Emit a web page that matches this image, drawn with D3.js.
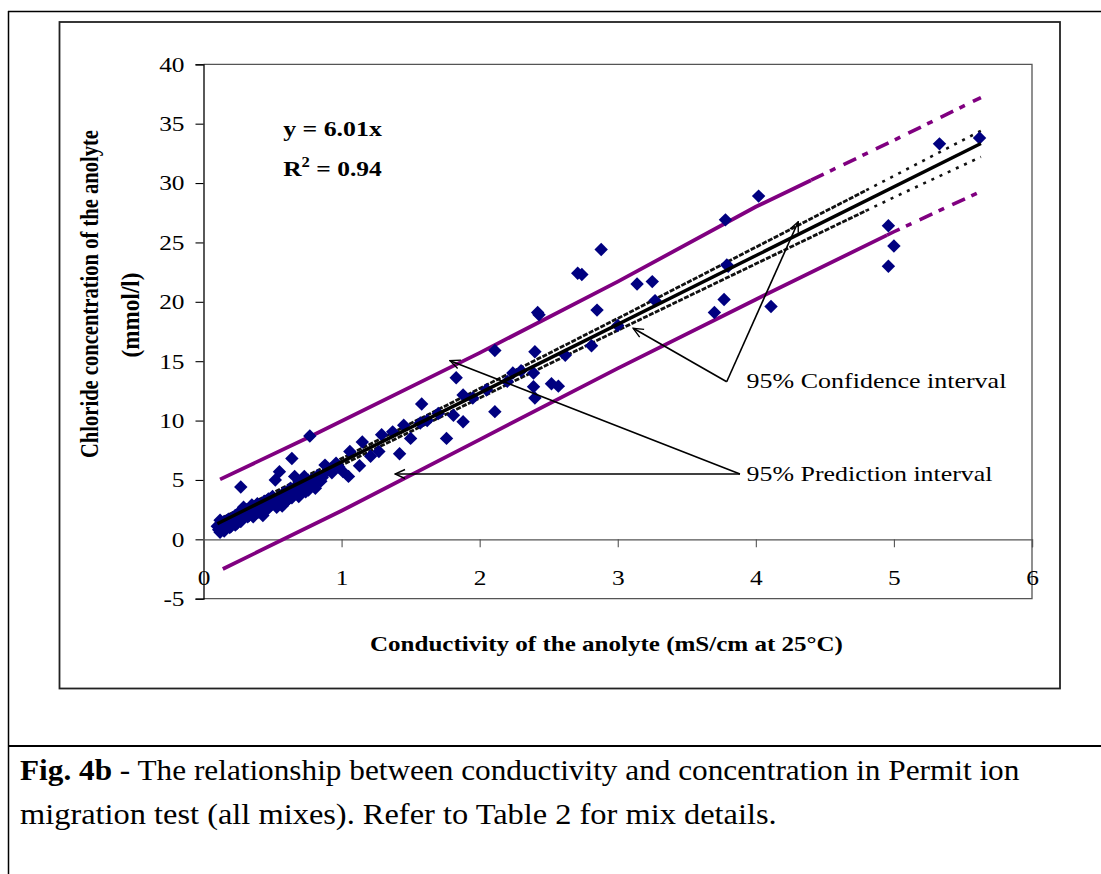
<!DOCTYPE html>
<html><head><meta charset="utf-8">
<script src="https://cdn.jsdelivr.net/npm/d3@7/dist/d3.min.js"></script>
<style>
html,body{margin:0;padding:0;background:#fff;}
svg{display:block;}
text{font-family:"Liberation Serif","Times New Roman",serif;}
</style></head>
<body>
<svg id="chart" width="1101" height="874"></svg>
<script>
// ---------- data ----------
const xTicks = [0,1,2,3,4,5,6];
const yTicks = [-5,0,5,10,15,20,25,30,35,40];

const pointsX = [5.62,5.33,4.02,3.78,2.88,2.71,2.74,3.14,3.25,3.27,2.85,3.79,3.77,3.70,4.11,4.96,5.00,4.96,
  2.42,2.43,2.11,2.40,2.81,1.83,2.24,2.39,1.88,2.39,2.52,2.57,2.40,1.58,2.11,1.81,1.88,1.76,1.42,1.29,1.37,1.50,
  0.77,0.64,0.27,0.55,0.52,0.66,0.73,0.76,0.88,0.96,1.06,1.15,1.05,1.13,1.27,1.21,1.57,
  1.45,1.62,1.70,1.95,2.05,2.20,2.30,2.62,3.00,3.80,
  0.10,0.11,0.12,0.13,0.14,0.15,0.16,0.17,0.18,0.19,0.20,0.21,0.22,0.23,0.24,0.25,0.26,0.28,0.29,0.30,0.31,0.32,
  0.34,0.35,0.36,0.37,0.39,0.40,0.42,0.44,0.46,0.47,0.49,0.50,0.52,0.55,0.57,0.58,0.61,0.63,0.66,0.68,0.70,0.72,
  0.75,0.78,0.80,0.83,0.86,0.90,0.93,0.98,1.01,
  0.12,0.15,0.19,0.23,0.27,0.33,0.38,0.43,0.48,0.53,0.59,0.64,0.69,0.74,0.81,0.85];
const pointsY = [33.8,33.3,28.9,26.9,24.4,22.4,22.3,21.5,21.7,20.1,19.3,23.1,20.2,19.1,19.6,26.4,24.7,23.0,
  19.1,18.9,15.9,15.8,16.3,13.6,14.0,14.0,12.15,12.85,13.1,12.9,11.9,11.4,10.75,10.45,9.9,8.5,7.2,8.8,9.05,8.5,
  8.7,6.8,4.4,5.7,5.0,5.3,5.3,4.15,6.25,6.4,7.4,8.2,5.3,6.2,7.4,7.0,9.8,
  9.6,10.0,10.6,11.9,12.6,13.3,14.2,15.5,18.0,23.0,
  1.1,0.8,0.6,1.3,1.0,1.5,0.9,1.2,1.7,1.4,1.1,1.8,1.5,2.0,1.3,1.9,2.3,1.7,2.7,2.1,2.5,1.9,
  2.4,2.9,1.9,2.6,3.0,2.3,2.8,3.2,2.5,3.4,2.9,3.6,3.1,3.6,2.8,3.9,3.3,4.3,3.8,4.6,4.2,4.9,
  4.4,5.0,4.7,5.4,5.2,5.8,5.6,6.1,5.7,
  1.6,0.7,1.0,1.2,1.5,2.0,2.2,2.0,3.0,2.7,3.1,3.5,3.6,4.0,4.3,4.9];

const fitX = [0.10, 5.63];
const fitY = [1.31, 33.33];

const ciX      = [0.10, 1.0, 2.0, 3.0, 4.0, 5.0, 5.63];
const ciUpperY = [1.6, 6.8, 12.7, 18.6, 24.6, 30.6, 34.4];
const ciLowerY = [1.0, 6.25, 11.9, 17.6, 23.2, 28.8, 32.2];

const piUpperX = [0.12, 0.77, 2.0, 3.0, 4.0, 5.0, 5.63];
const piUpperY = [5.05, 8.64, 15.7, 21.7, 28.0, 33.6, 37.2];
const piLowerX = [0.14, 1.0, 2.0, 3.0, 4.0, 5.0, 5.63];
const piLowerY = [-2.5, 2.4, 8.4, 14.4, 20.2, 25.9, 29.3];

const xTitle = "Conductivity of the anolyte (mS/cm at 25\u00B0C)";
const yTitle1 = "Chloride concentration of the anolyte";
const yTitle2 = "(mmol/l)";
const ciLabel = "95% Confidence interval";
const piLabel = "95% Prediction interval";
const captionBold = "Fig. 4b";
const captionRest1 = " - The relationship between conductivity and concentration in Permit ion";
const captionLine2 = "migration test (all mixes). Refer to Table 2 for mix details.";

// ---------- layout ----------
const svg = d3.select("#chart");
const L = 203.5, R = 1032, T = 64.3, B = 598.7;
const x = d3.scaleLinear().domain([0,6]).range([L,R]);
const y = d3.scaleLinear().domain([-5,40]).range([B,T]);
const FS = 21.5;

// stretch a text element horizontally to a target ink width, around anchor ax
function fitWidth(sel, target, ax){
  const w = sel.node().getBBox().width;
  const s = target / w;
  sel.attr("transform", `translate(${ax},0) scale(${s},1) translate(${-ax},0)`);
}

// page frame
svg.append("line").attr("x1",8.5).attr("x2",8.5).attr("y1",11).attr("y2",874).attr("stroke","#000").attr("stroke-width",1.5);
svg.append("line").attr("x1",8).attr("x2",1101).attr("y1",11.5).attr("y2",11.5).attr("stroke","#000").attr("stroke-width",1.5);
svg.append("line").attr("x1",8).attr("x2",1101).attr("y1",746).attr("y2",746).attr("stroke","#000").attr("stroke-width",2);

// chart area border
svg.append("rect").attr("x",59.5).attr("y",22).attr("width",1000.5).attr("height",666.5)
  .attr("fill","none").attr("stroke","#222").attr("stroke-width",1.8);

// plot area border (top, right, bottom)
svg.append("path").attr("d",`M${L},${T}H${R}V${B}H${L}`).attr("fill","none").attr("stroke","#555").attr("stroke-width",1.3);

// y axis
const yAxis = d3.axisLeft(y).tickValues(yTicks).tickSize(8).tickPadding(11).tickFormat(d => String(d));
const gy = svg.append("g").attr("transform",`translate(${L},0)`).call(yAxis);
gy.select(".domain").attr("stroke","#000").attr("stroke-width",1.3);
gy.selectAll(".tick line").attr("stroke","#000").attr("stroke-width",1.1);
gy.selectAll("text").attr("font-size",FS).attr("fill","#000").attr("font-family","Liberation Serif")
  .attr("transform","translate(-19,0) scale(1.18,1) translate(19,0)");

// x axis at y=0
const xAxis = d3.axisBottom(x).tickValues(xTicks).tickSize(8).tickPadding(22).tickFormat(d => String(d));
const gx = svg.append("g").attr("transform",`translate(0,${y(0)})`).call(xAxis);
gx.select(".domain").attr("stroke","#555").attr("stroke-width",1.3);
gx.selectAll(".tick line").attr("stroke","#555").attr("stroke-width",1.1);
gx.selectAll("text").attr("font-size",FS).attr("fill","#000").attr("font-family","Liberation Serif")
  .attr("transform","scale(1.18,1)");

// helpers
function lineFrom(xs, ys){
  return d3.line().x(d=>x(d[0])).y(d=>y(d[1]))(xs.map((v,i)=>[v,ys[i]]));
}
function splitPath(xs, ys, xs0, xs1){
  const pts = xs.map((v,i)=>[v,ys[i]]);
  const interp = d3.scaleLinear().domain(xs).range(ys);
  const inner = pts.filter(p=>p[0]>xs0 && p[0]<xs1);
  const seg = [[xs0, interp(xs0)], ...inner, [xs1, interp(xs1)]];
  return d3.line().x(d=>x(d[0])).y(d=>y(d[1]))(seg);
}

// prediction interval (purple)
const purple = "#800080";
function drawPI(xs, ys, dashStart){
  svg.append("path").attr("d", splitPath(xs, ys, xs[0], dashStart))
    .attr("fill","none").attr("stroke",purple).attr("stroke-width",3.8);
  svg.append("path").attr("d", splitPath(xs, ys, dashStart, xs[xs.length-1]))
    .attr("fill","none").attr("stroke",purple).attr("stroke-width",3.6).attr("stroke-dasharray","14,7,6,9");
}
drawPI(piUpperX, piUpperY, 4.4);
drawPI(piLowerX, piLowerY, 4.95);

// confidence interval (black dotted)
function drawCI(xs, ys, dashStart){
  svg.append("path").attr("d", splitPath(xs, ys, xs[0], dashStart))
    .attr("fill","none").attr("stroke","#111").attr("stroke-width",2.8).attr("stroke-dasharray","5,1.5");
  svg.append("path").attr("d", splitPath(xs, ys, dashStart, xs[xs.length-1]))
    .attr("fill","none").attr("stroke","#111").attr("stroke-width",2.6).attr("stroke-dasharray","3,6");
}
drawCI(ciX, ciUpperY, 4.8);
drawCI(ciX, ciLowerY, 4.8);

// points
const sym = d3.symbol().type(d3.symbolSquare).size(90);
svg.append("g").selectAll("path").data(pointsX.map((v,i)=>[v,pointsY[i]])).join("path")
  .attr("d", sym)
  .attr("transform", d=>`translate(${x(d[0])},${y(d[1])}) rotate(45)`)
  .attr("fill","#000080");

// fit line
svg.append("path").attr("d", lineFrom(fitX, fitY)).attr("fill","none").attr("stroke","#000").attr("stroke-width",3.4);

// equation
const eq1 = svg.append("text").attr("x",332.5).attr("y",136).attr("text-anchor","middle")
  .attr("font-size",FS).attr("font-weight","bold").text("y = 6.01x");
fitWidth(eq1, 99, 332.5);
const rt = svg.append("text").attr("x",332.5).attr("y",176).attr("text-anchor","middle")
  .attr("font-size",FS).attr("font-weight","bold");
rt.append("tspan").text("R");
rt.append("tspan").attr("dy",-9).attr("font-size",14).text("2");
rt.append("tspan").attr("dy",9).text(" = 0.94");
fitWidth(rt, 99, 332.5);

// axis titles
const xt = svg.append("text").attr("x",606.5).attr("y",651).attr("text-anchor","middle")
  .attr("font-size",FS).attr("font-weight","bold").text(xTitle);
fitWidth(xt, 473, 606.5);
svg.append("text").attr("transform","translate(98,294) scale(1.2,1) rotate(-90)").attr("text-anchor","middle")
  .attr("font-size",FS).attr("font-weight","bold").attr("textLength",328).attr("lengthAdjust","spacingAndGlyphs").text(yTitle1);
svg.append("text").attr("transform","translate(139,315) scale(1.2,1) rotate(-90)").attr("text-anchor","middle")
  .attr("font-size",FS).attr("font-weight","bold").attr("textLength",85).attr("lengthAdjust","spacingAndGlyphs").text(yTitle2);

// annotations with open arrowheads
svg.append("defs").append("marker").attr("id","arr").attr("viewBox","0 0 12 12")
  .attr("refX",11).attr("refY",6).attr("markerWidth",12).attr("markerHeight",12)
  .attr("markerUnits","userSpaceOnUse").attr("orient","auto")
  .append("path").attr("d","M1,1.5 L11,6 L1,10.5").attr("fill","none").attr("stroke","#000").attr("stroke-width",1.4);

function arrow(vx, vy, ex, ey){
  svg.append("line").attr("x1",x(vx)).attr("y1",y(vy)).attr("x2",x(ex)).attr("y2",y(ey))
    .attr("stroke","#000").attr("stroke-width",1.6).attr("marker-end","url(#arr)");
}
// confidence
arrow(3.789, 13.27, 3.112, 17.77);
arrow(3.789, 13.27, 4.307, 26.74);
// prediction
arrow(3.885, 5.50, 1.785, 15.04);
arrow(3.885, 5.50, 1.387, 5.50);

const lx = x(3.933);
const ct = svg.append("text").attr("x",lx).attr("y",388).attr("font-size",FS).text(ciLabel);
fitWidth(ct, 260, lx);
const pt = svg.append("text").attr("x",lx).attr("y",481).attr("font-size",FS).text(piLabel);
fitWidth(pt, 246, lx);

// caption
const cap1 = svg.append("text").attr("x",20).attr("y",780).attr("font-size",30);
cap1.append("tspan").attr("font-weight","bold").text(captionBold);
cap1.append("tspan").text(captionRest1);
fitWidth(cap1, 1000, 20);
const cap2 = svg.append("text").attr("x",20).attr("y",824).attr("font-size",30).text(captionLine2);
fitWidth(cap2, 757, 20);
</script>
</body></html>
